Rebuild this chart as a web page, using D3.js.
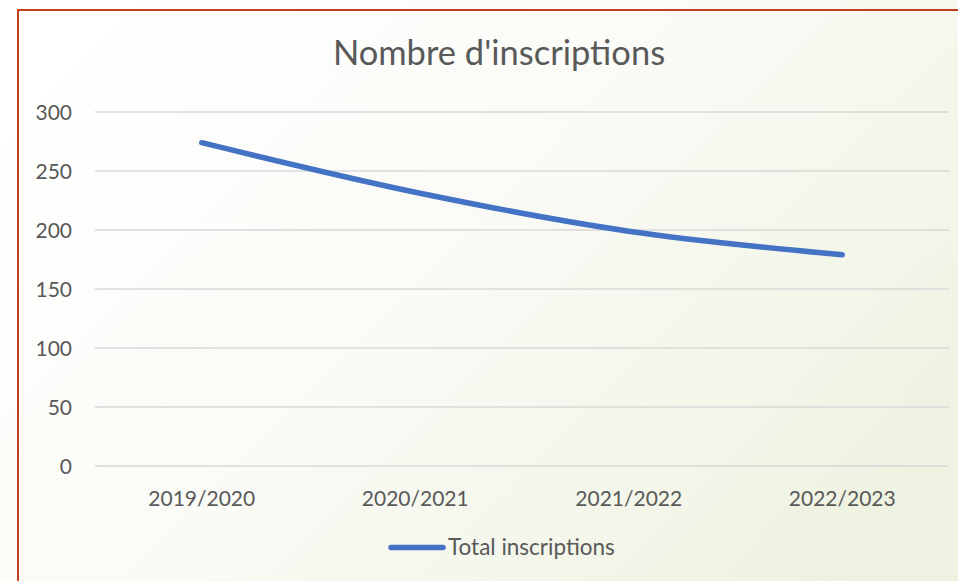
<!DOCTYPE html>
<html>
<head>
<meta charset="utf-8">
<script src="https://cdn.jsdelivr.net/npm/d3@7"></script>
<style>
html,body{margin:0;padding:0;overflow:hidden;}
svg{display:block;}
text{font-family:Lato,"Open Sans",sans-serif;fill:#595959;}
</style>
</head>
<body>
<svg id="chart" width="958" height="581"></svg>
<script>
const categories = ["2019/2020", "2020/2021", "2021/2022", "2022/2023"];
const seriesName = "Total inscriptions";
const values = [274, 232, 199, 179];
const yTicks = [0, 50, 100, 150, 200, 250, 300];
const title = "Nombre d'inscriptions";

(function(){
const W = 958, H = 581;
const svg = d3.select("#chart");

const defs = svg.append("defs");
const grad = defs.append("linearGradient").attr("id","bg")
  .attr("x1","0%").attr("y1","20%").attr("x2","100%").attr("y2","80%");
grad.append("stop").attr("offset","0%").attr("stop-color","#ffffff");
grad.append("stop").attr("offset","45%").attr("stop-color","#fafbf6");
grad.append("stop").attr("offset","100%").attr("stop-color","#eef2e0");
svg.append("rect").attr("width",W).attr("height",H).attr("fill","url(#bg)");

// border
svg.append("rect").attr("x",18).attr("y",10).attr("width",W+20).attr("height",H+20)
  .attr("fill","none").attr("stroke","#bf3f1f").attr("stroke-width",2);

const pLeft = 95, pRight = 949, pTop = 112, pBottom = 466;
const x = d3.scaleBand().domain(categories).range([pLeft,pRight]);
const y = d3.scaleLinear().domain([0,300]).range([pBottom,pTop]);

// gridlines
svg.append("g").selectAll("line").data(yTicks).join("line")
  .attr("x1",pLeft).attr("x2",pRight)
  .attr("y1",d=>y(d)).attr("y2",d=>y(d))
  .attr("stroke","#d9d9d9").attr("stroke-width",1.3);

// y axis labels
const yAxis = d3.axisLeft(y).tickValues(yTicks).tickSize(0).tickPadding(0);
const gy = svg.append("g").attr("transform",`translate(72,0)`).call(yAxis);
gy.select(".domain").remove();
gy.selectAll("text").style("font-size","21px").style("font-family","Lato")
  .attr("fill","#595959").attr("dy",null).attr("y",7.5);

// x axis labels
const xAxis = d3.axisBottom(x).tickSize(0).tickPadding(0);
const gx = svg.append("g").attr("transform",`translate(0,${pBottom})`).call(xAxis);
gx.select(".domain").remove();
gx.selectAll("text").style("font-size","21px").style("font-family","Lato")
  .attr("fill","#595959").attr("dy",null).attr("y",39.5);

// line
const line = d3.line()
  .x((d,i)=>x(categories[i])+x.bandwidth()/2)
  .y(d=>y(d))
  .curve(d3.curveCatmullRom.alpha(0));
svg.append("path").datum(values).attr("d",line)
  .attr("fill","none").attr("stroke","#4472c4").attr("stroke-width",5.5)
  .attr("stroke-linecap","round").attr("stroke-linejoin","round");

// title
svg.append("text").attr("x",499).attr("y",64.5).attr("text-anchor","middle")
  .style("font-size","34.5px").text(title);

// legend
svg.append("line").attr("x1",391).attr("x2",443).attr("y1",547.5).attr("y2",547.5)
  .attr("stroke","#4472c4").attr("stroke-width",5.5).attr("stroke-linecap","round");
svg.append("text").attr("x",448).attr("y",554.7)
  .style("font-size","22.5px").text(seriesName);
})();
</script>
</body>
</html>
